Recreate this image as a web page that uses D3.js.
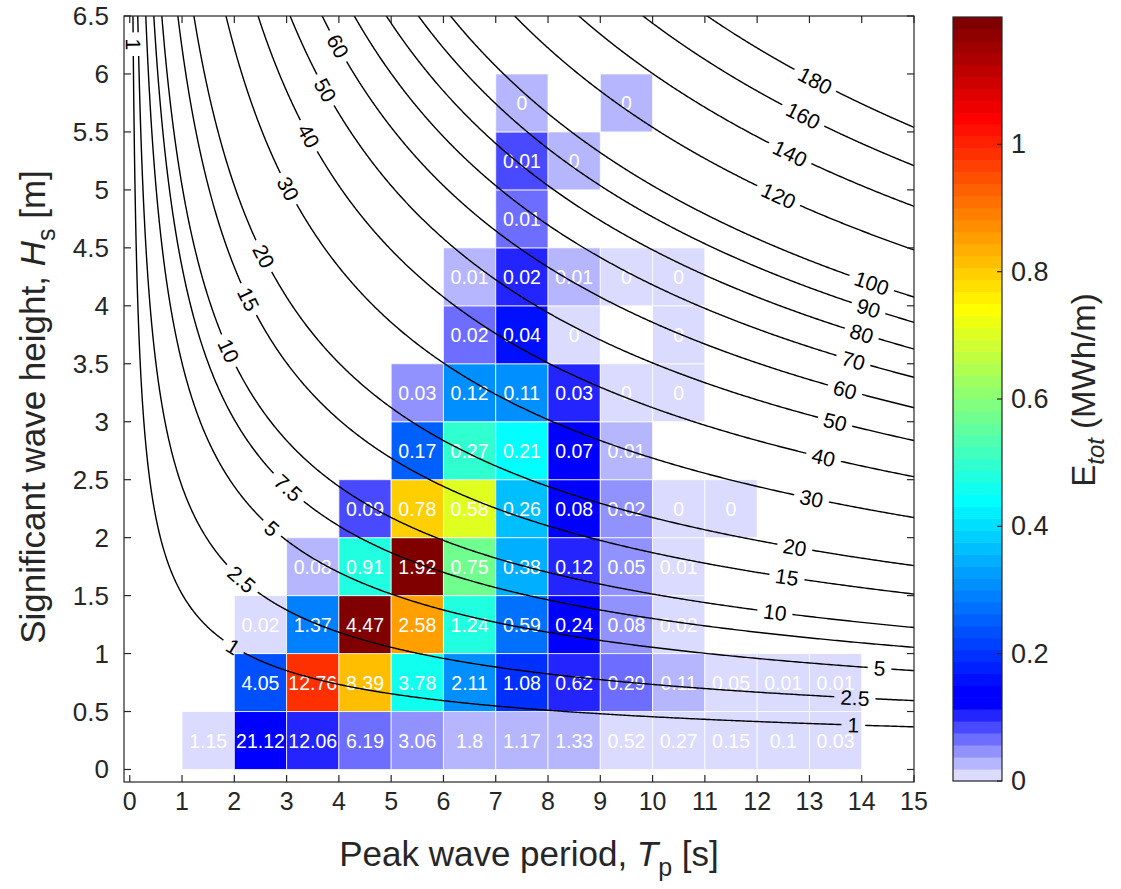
<!DOCTYPE html>
<html>
<head>
<meta charset="utf-8">
<script src="https://cdn.jsdelivr.net/npm/d3@7"></script>
<style>
  body { margin: 0; background: #fff; }
  text { font-family: "Liberation Sans", Arial, sans-serif; }
</style>
</head>
<body>
<svg id="chart" width="1121" height="889"></svg>
<script>
// Bin lower edges: peak period Tp (s) and significant wave height Hs (m)
const periodBins = [0, 1, 2, 3, 4, 5, 6, 7, 8, 9, 10, 11, 12, 13];
const heightBins = [0, 0.5, 1, 1.5, 2, 2.5, 3, 3.5, 4, 4.5, 5, 5.5];

// Occurrence (%) of each sea state; rows follow heightBins, columns follow periodBins
const occurrence = [
  [null, 1.15, 21.12, 12.06, 6.19, 3.06, 1.8, 1.17, 1.33, 0.52, 0.27, 0.15, 0.1, 0.03],
  [null, null, 4.05, 12.76, 8.39, 3.78, 2.11, 1.08, 0.62, 0.29, 0.11, 0.05, 0.01, 0.01],
  [null, null, 0.02, 1.37, 4.47, 2.58, 1.24, 0.59, 0.24, 0.08, 0.02, null, null, null],
  [null, null, null, 0.08, 0.91, 1.92, 0.75, 0.38, 0.12, 0.05, 0.01, null, null, null],
  [null, null, null, null, 0.09, 0.78, 0.58, 0.26, 0.08, 0.02, 0, 0, null, null],
  [null, null, null, null, null, 0.17, 0.27, 0.21, 0.07, 0.01, null, null, null, null],
  [null, null, null, null, null, 0.03, 0.12, 0.11, 0.03, 0, 0, null, null, null],
  [null, null, null, null, null, null, 0.02, 0.04, 0, null, 0, null, null, null],
  [null, null, null, null, null, null, 0.01, 0.02, 0.01, 0, 0, null, null, null],
  [null, null, null, null, null, null, null, 0.01, null, null, null, null, null, null],
  [null, null, null, null, null, null, null, 0.01, 0, null, null, null, null, null],
  [null, null, null, null, null, null, null, 0, null, 0, null, null, null, null]
];

// Total wave energy Etot (MWh/m) of each sea state, same layout
const energy = [
  [null, 0.006, 0.13, 0.105, 0.068, 0.047, 0.03, 0.028, 0.03, 0.012, 0.008, 0.005, 0.004, 0.002],
  [null, null, 0.235, 0.99, 0.82, 0.46, 0.31, 0.19, 0.11, 0.063, 0.027, 0.013, 0.003, 0.003],
  [null, null, 0.004, 0.29, 1.22, 0.86, 0.48, 0.27, 0.124, 0.046, 0.013, null, null, null],
  [null, null, null, 0.03, 0.47, 1.22, 0.565, 0.35, 0.105, 0.05, 0.012, null, null, null],
  [null, null, null, null, 0.08, 0.8, 0.7, 0.36, 0.127, 0.045, 0.005, 0.005, null, null],
  [null, null, null, null, null, 0.26, 0.49, 0.44, 0.135, 0.028, null, null, null, null],
  [null, null, null, null, null, 0.05, 0.3, 0.31, 0.1, 0.005, 0.005, null, null, null],
  [null, null, null, null, null, null, 0.065, 0.15, 0.005, null, 0.005, null, null, null],
  [null, null, null, null, null, null, 0.03, 0.1, 0.03, 0.005, 0.005, null, null, null],
  [null, null, null, null, null, null, null, 0.065, null, null, null, null, null, null],
  [null, null, null, null, null, null, null, 0.09, 0.03, null, null, null, null, null],
  [null, null, null, null, null, null, null, 0.03, null, 0.03, null, null, null, null]
];

// Wave power isolines (kW/m) and the peak periods where their labels sit
const powerLevels = [1, 2.5, 5, 7.5, 10, 15, 20, 30, 40, 50, 60, 70, 80, 90, 100, 120, 140, 160, 180];
const labelAnchors = [
  [1, 0.066], [1, 1.98], [2.5, 2.14], [5, 2.72], [7.5, 3.03], [10, 1.89], [15, 2.27],
  [20, 2.56], [30, 3.03], [40, 3.42], [50, 3.74], [60, 3.98],
  [180, 13.11], [160, 12.88], [140, 12.63], [120, 12.41], [100, 14.19], [90, 14.13],
  [80, 14.0], [70, 13.84], [60, 13.68], [50, 13.49], [40, 13.27], [30, 13.04],
  [20, 12.72], [15, 12.57], [10, 12.34], [5, 14.34], [2.5, 13.87], [1, 13.84]
];

const xTicks = [0, 1, 2, 3, 4, 5, 6, 7, 8, 9, 10, 11, 12, 13, 14, 15];
const yTicks = [0, 0.5, 1, 1.5, 2, 2.5, 3, 3.5, 4, 4.5, 5, 5.5, 6, 6.5];
const colorTicks = [0, 0.2, 0.4, 0.6, 0.8, 1];
const colorMax = 1.2;

// Wave power flux fit P = c * Hs^a * Tp (kW/m)
const powerCoef = 0.4523, heightExp = 1.915;
const hsForPower = (p, t) => Math.pow(p / (powerCoef * t), 1 / heightExp);

const axisColor = "#262626";
const svg = d3.select("#chart");
const plot = { left: 124, right: 914, top: 16, bottom: 782 };

const x = d3.scaleLinear().domain([-0.11, 15]).range([plot.left, plot.right]);
const y = d3.scaleLinear().domain([-0.108, 6.5]).range([plot.bottom, plot.top]);

// 64-level jet map whose lowest levels fade from blue to lavender
function jet64() {
  const n = 64, m = 16;
  const u = [];
  for (let i = 1; i <= m; i++) u.push(i / m);
  for (let i = 1; i < m; i++) u.push(1);
  for (let i = m; i >= 1; i--) u.push(i / m);
  const r = new Array(n).fill(0), g = new Array(n).fill(0), b = new Array(n).fill(0);
  u.forEach((v, k) => {
    const gi = 8 + k + 1, ri = gi + m, bi = gi - m;
    if (gi >= 1 && gi <= n) g[gi - 1] = v;
    if (ri >= 1 && ri <= n) r[ri - 1] = v;
    if (bi >= 1 && bi <= n) b[bi - 1] = v;
  });
  const cols = d3.range(n).map(i => d3.rgb(r[i] * 255, g[i] * 255, b[i] * 255));
  for (let i = 0; i < 7; i++) {
    const t = (6 - i) / 7;
    cols[i] = d3.rgb(255 * t, 255 * t, 255);
  }
  return cols;
}
const palette = jet64();
const color = d3.scaleQuantize().domain([0, colorMax]).range(palette);
const colorOf = v => v >= colorMax ? palette[63] : color(v);

// Clip region for everything inside the axes
const defs = svg.append("defs");
defs.append("clipPath").attr("id", "plot-clip")
  .append("rect")
  .attr("x", plot.left).attr("y", plot.top)
  .attr("width", plot.right - plot.left).attr("height", plot.bottom - plot.top);

// Sea-state cells
const cells = [];
heightBins.forEach((hs, i) => {
  periodBins.forEach((tp, j) => {
    const occ = occurrence[i][j];
    if (occ === null) return;
    cells.push({ tp, hs, occ, e: energy[i][j] });
  });
});

const cellLayer = svg.append("g").attr("clip-path", "url(#plot-clip)");
cellLayer.selectAll("rect.cell").data(cells).join("rect")
  .attr("class", "cell")
  .attr("x", d => x(d.tp))
  .attr("y", d => y(d.hs + 0.5))
  .attr("width", d => x(d.tp + 1) - x(d.tp))
  .attr("height", d => y(d.hs) - y(d.hs + 0.5))
  .attr("fill", d => colorOf(d.e))
  .attr("stroke", "rgba(255,255,255,0.75)")
  .attr("stroke-width", 1);

cellLayer.selectAll("text.occ").data(cells).join("text")
  .attr("class", "occ")
  .attr("x", d => x(d.tp + 0.5))
  .attr("y", d => y(d.hs + 0.25))
  .attr("text-anchor", "middle")
  .attr("dominant-baseline", "central")
  .attr("fill", "#fff")
  .attr("font-size", 19.5)
  .text(d => String(d.occ));

// Contour labels (placed first so the lines can be broken around them)
const labelLayer = svg.append("g").attr("clip-path", "url(#plot-clip)");
const labels = labelAnchors.map(([p, t]) => {
  const h = 0.01;
  const px = x(t), py = y(hsForPower(p, t));
  const dx = x(t + h) - x(t - h);
  const dy = y(hsForPower(p, t + h)) - y(hsForPower(p, t - h));
  let ang = Math.atan2(dy, dx) * 180 / Math.PI;
  if (ang > 90) ang -= 180;
  if (ang < -90) ang += 180;
  return { p, px, py, ang };
});
labelLayer.selectAll("text").data(labels).join("text")
  .attr("transform", d => `translate(${d.px},${d.py}) rotate(${d.ang})`)
  .attr("text-anchor", "middle")
  .attr("dominant-baseline", "central")
  .attr("font-size", 21)
  .attr("fill", "#000")
  .text(d => String(d.p))
  .each(function (d) { d.w = this.getComputedTextLength(); });

const mask = defs.append("mask").attr("id", "label-gaps")
  .attr("maskUnits", "userSpaceOnUse")
  .attr("x", 0).attr("y", 0).attr("width", 1121).attr("height", 889);
mask.append("rect").attr("x", 0).attr("y", 0).attr("width", 1121).attr("height", 889).attr("fill", "#fff");
mask.selectAll("rect.gap").data(labels).join("rect")
  .attr("class", "gap")
  .attr("x", d => -d.w / 2 - 6).attr("y", -10)
  .attr("width", d => d.w + 12).attr("height", 20)
  .attr("transform", d => `translate(${d.px},${d.py}) rotate(${d.ang})`)
  .attr("fill", "#000");

// Wave power isolines
const line = d3.line().x(d => x(d[0])).y(d => y(d[1]));
const lineLayer = svg.insert("g", () => labelLayer.node())
  .attr("clip-path", "url(#plot-clip)")
  .append("g").attr("mask", "url(#label-gaps)");
lineLayer.selectAll("path").data(powerLevels).join("path")
  .attr("d", p => {
    const tStart = p / (powerCoef * Math.pow(6.7, heightExp));
    const pts = d3.range(0, 1.0001, 1 / 600).map(s => {
      const t = tStart + (15.2 - tStart) * s * s;
      return [t, hsForPower(p, t)];
    });
    return line(pts);
  })
  .attr("fill", "none")
  .attr("stroke", "#000")
  .attr("stroke-width", 1.4);

// Axes box and inward ticks on all four sides
const tickLen = 7;
const axes = svg.append("g").attr("stroke", axisColor).attr("stroke-width", 1.2);
axes.append("rect")
  .attr("x", plot.left).attr("y", plot.top)
  .attr("width", plot.right - plot.left).attr("height", plot.bottom - plot.top)
  .attr("fill", "none");
axes.selectAll("line.xb").data(xTicks).join("line")
  .attr("x1", d => x(d)).attr("x2", d => x(d))
  .attr("y1", plot.bottom).attr("y2", plot.bottom - tickLen);
axes.selectAll("line.xt").data(xTicks).join("line")
  .attr("x1", d => x(d)).attr("x2", d => x(d))
  .attr("y1", plot.top).attr("y2", plot.top + tickLen);
axes.selectAll("line.yl").data(yTicks).join("line")
  .attr("y1", d => y(d)).attr("y2", d => y(d))
  .attr("x1", plot.left).attr("x2", plot.left + tickLen);
axes.selectAll("line.yr").data(yTicks).join("line")
  .attr("y1", d => y(d)).attr("y2", d => y(d))
  .attr("x1", plot.right).attr("x2", plot.right - tickLen);

svg.append("g").selectAll("text").data(xTicks).join("text")
  .attr("x", d => x(d)).attr("y", 810)
  .attr("text-anchor", "middle")
  .attr("font-size", 25).attr("fill", axisColor)
  .text(d => d);

svg.append("g").selectAll("text").data(yTicks).join("text")
  .attr("x", 109).attr("y", d => y(d))
  .attr("text-anchor", "end").attr("dominant-baseline", "central")
  .attr("font-size", 26).attr("fill", axisColor)
  .text(d => d);

// Axis titles
const xTitle = svg.append("text")
  .attr("x", 529).attr("y", 866)
  .attr("text-anchor", "middle").attr("font-size", 35).attr("fill", axisColor);
xTitle.append("tspan").text("Peak wave period, ");
xTitle.append("tspan").attr("font-style", "italic").text("T");
xTitle.append("tspan").attr("font-size", 25).attr("dy", 10).text("p");
xTitle.append("tspan").attr("dy", -10).text(" [s]");

const yTitle = svg.append("text")
  .attr("transform", "translate(45,407) rotate(-90)")
  .attr("text-anchor", "middle").attr("font-size", 35).attr("fill", axisColor);
yTitle.append("tspan").text("Significant wave height, ");
yTitle.append("tspan").attr("font-style", "italic").text("H");
yTitle.append("tspan").attr("font-size", 25).attr("dy", 10).text("s");
yTitle.append("tspan").attr("dy", -10).text(" [m]");

// Colour bar
const cb = { left: 953, right: 1002 };
const cy = d3.scaleLinear().domain([0, colorMax]).range([781, 17]);
const step = colorMax / palette.length;
svg.append("g").selectAll("rect").data(palette).join("rect")
  .attr("x", cb.left).attr("width", cb.right - cb.left)
  .attr("y", (c, i) => cy((i + 1) * step))
  .attr("height", (c, i) => cy(i * step) - cy((i + 1) * step) + 0.5)
  .attr("fill", c => c);
svg.append("rect")
  .attr("x", cb.left).attr("y", cy(colorMax))
  .attr("width", cb.right - cb.left).attr("height", cy(0) - cy(colorMax))
  .attr("fill", "none").attr("stroke", axisColor).attr("stroke-width", 1.2);
svg.append("g").selectAll("line").data(colorTicks).join("line")
  .attr("x1", cb.right).attr("x2", cb.right - 5)
  .attr("y1", d => cy(d)).attr("y2", d => cy(d))
  .attr("stroke", axisColor).attr("stroke-width", 1.2);
svg.append("g").selectAll("text").data(colorTicks).join("text")
  .attr("x", 1011).attr("y", d => cy(d))
  .attr("dominant-baseline", "central")
  .attr("font-size", 27).attr("fill", axisColor)
  .text(d => d);

const cTitle = svg.append("text")
  .attr("transform", "translate(1095,390) rotate(-90)")
  .attr("text-anchor", "middle").attr("font-size", 33).attr("fill", axisColor);
cTitle.append("tspan").text("E");
cTitle.append("tspan").attr("font-size", 24).attr("font-style", "italic").attr("dy", 9).text("tot");
cTitle.append("tspan").attr("dy", -9).text(" (MWh/m)");
</script>
</body>
</html>
